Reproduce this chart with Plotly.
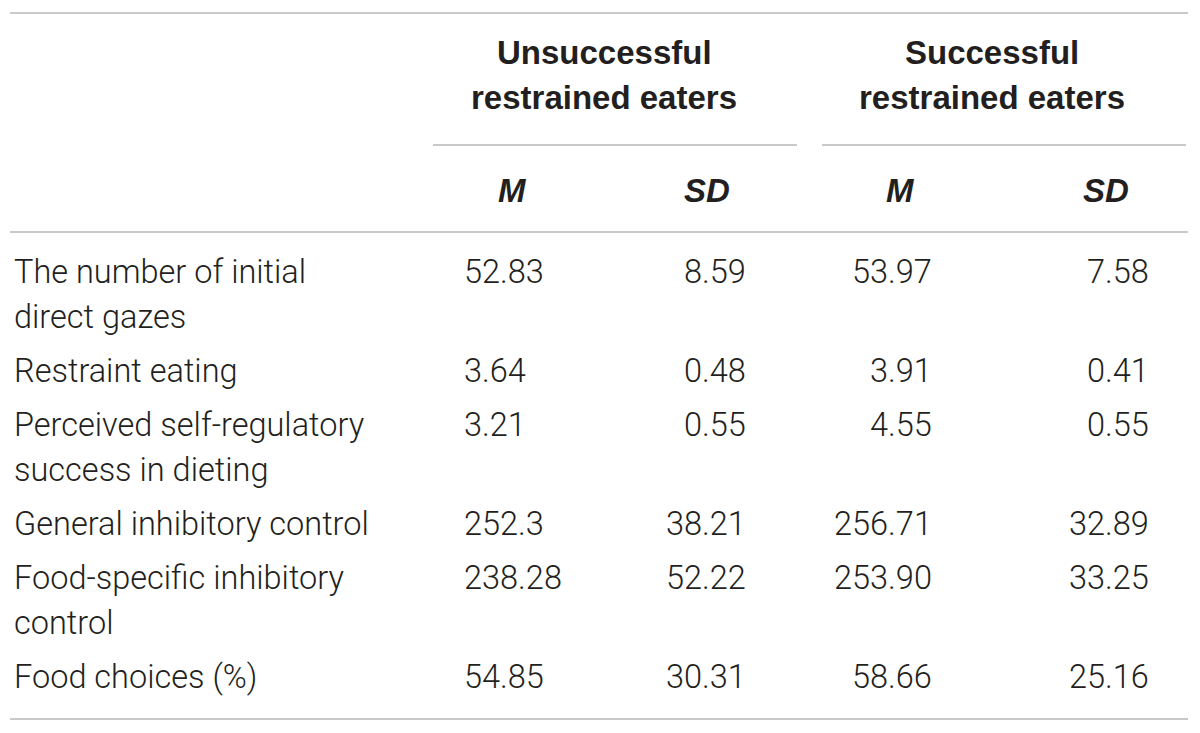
import plotly.graph_objects as go

# table content
row_labels = [
    ["The number of initial", "direct gazes"],
    ["Restraint eating"],
    ["Perceived self-regulatory", "success in dieting"],
    ["General inhibitory control"],
    ["Food-specific inhibitory", "control"],
    ["Food choices (%)"],
]
group_labels = [["Unsuccessful", "restrained eaters"],
                ["Successful", "restrained eaters"]]
stat_labels = ["M", "SD", "M", "SD"]
unsuccessful_m = ["52.83", "3.64", "3.21", "252.3", "238.28", "54.85"]
unsuccessful_sd = ["8.59", "0.48", "0.55", "38.21", "52.22", "30.31"]
successful_m = ["53.97", "3.91", "4.55", "256.71", "253.90", "58.66"]
successful_sd = ["7.58", "0.41", "0.55", "32.89", "33.25", "25.16"]

# layout constants (pixel space of the final page)
W, H = 1200, 733
PAGE_PAD = 8  # default body margin of the html page
TEXT = "#231f20"
RULE = "#c9c9c9"
BODY = dict(family="Roboto", size=32.5, color=TEXT, weight=300)
HEAD = dict(family="Liberation Sans", size=33, color=TEXT, weight="bold")
label_x = 12
value_cols = [(462, "left"), (748, "right"), (934, "right"), (1151, "right")]
group_x = [604, 992]
stat_x = [512, 707, 900, 1106]
first_row_y, line_gap, row_pad = 272, 45, 9

fig = go.Figure()
fig.add_trace(go.Scatter(x=[], y=[], showlegend=False))

annotations = []


def text(x, y, s, font, anchor="left"):
    annotations.append(dict(x=x, y=y, xref="x", yref="y", text=s, showarrow=False,
                            xanchor=anchor, yanchor="middle", font=font))


# header
for gx, lines in zip(group_x, group_labels):
    for i, line in enumerate(lines):
        text(gx, 52 + i * line_gap, line, HEAD, "center")
for sx, s in zip(stat_x, stat_labels):
    text(sx, 190, f"<i>{s}</i>", HEAD, "center")

# body rows
columns = [unsuccessful_m, unsuccessful_sd, successful_m, successful_sd]
y = first_row_y
for r, lines in enumerate(row_labels):
    for i, line in enumerate(lines):
        text(label_x, y + i * line_gap, line, BODY)
    for (cx, anchor), col in zip(value_cols, columns):
        text(cx, y, col[r], BODY, anchor)
    y += len(lines) * line_gap + row_pad

# horizontal rules
rules = [(10, 1188, 13), (433, 797, 145), (822, 1186, 145), (10, 1188, 232), (10, 1188, 719)]
shapes = [dict(type="line", xref="x", yref="y", x0=a, x1=b, y0=yy, y1=yy,
               line=dict(color=RULE, width=2)) for a, b, yy in rules]

fig.update_layout(
    width=W, height=H,
    margin=dict(l=0, r=0, t=0, b=0),
    paper_bgcolor="white", plot_bgcolor="white",
    xaxis=dict(range=[PAGE_PAD, W + PAGE_PAD], visible=False, fixedrange=True),
    yaxis=dict(range=[H + PAGE_PAD, PAGE_PAD], visible=False, fixedrange=True),
    annotations=annotations, shapes=shapes,
)

fig.write_html("out.html")
